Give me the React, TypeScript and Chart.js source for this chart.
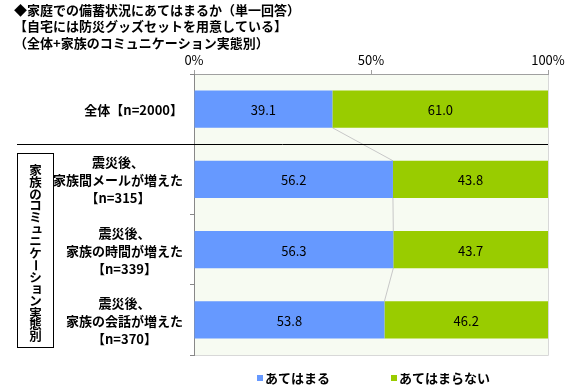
import React, { useEffect, useRef } from "react";
import { Chart, registerables } from "chart.js";

Chart.register(...registerables);

const titleLines = [
  "◆家庭での備蓄状況にあてはまるか（単一回答）",
  "【自宅には防災グッズセットを用意している】",
  "（全体+家族のコミュニケーション実態別）",
];
const categories: string[][] = [
  ["全体【n=2000】"],
  ["震災後、", "家族間メールが増えた", "【n=315】"],
  ["震災後、", "家族の時間が増えた", "【n=339】"],
  ["震災後、", "家族の会話が増えた", "【n=370】"],
];
const seriesNames = ["あてはまる", "あてはまらない"];
const applies = [39.1, 56.2, 56.3, 53.8];
const notApplies = [61.0, 43.8, 43.7, 46.2];
const xTickValues = [0, 50, 100];
const groupLabel = "家族のコミュニケーション実態別";

const COLORS = ["#6699FF", "#99CC00"];
const FONT = "'Noto Sans CJK JP', 'Noto Sans', sans-serif";

const decorPlugin = {
  id: "decor",
  beforeDraw(chart: any) {
    const { ctx, chartArea: a } = chart;
    ctx.save();
    ctx.fillStyle = "#F7FBF2";
    ctx.fillRect(a.left, a.top, a.right - a.left, a.bottom - a.top);
    ctx.strokeStyle = "#D8D8D8";
    ctx.lineWidth = 1;
    ctx.beginPath();
    ctx.moveTo(a.left, a.bottom + 0.5);
    ctx.lineTo(a.right + 0.5, a.bottom + 0.5);
    ctx.lineTo(a.right + 0.5, a.top);
    ctx.stroke();
    ctx.restore();
  },
  beforeDatasetsDraw(chart: any) {
    const { ctx } = chart;
    const m0 = chart.getDatasetMeta(0).data;
    ctx.save();
    ctx.strokeStyle = "#C8C8C8";
    ctx.lineWidth = 1;
    for (let i = 0; i < m0.length - 1; i++) {
      const a = m0[i];
      const b = m0[i + 1];
      ctx.beginPath();
      ctx.moveTo(a.x, a.y + a.height / 2);
      ctx.lineTo(b.x, b.y - b.height / 2);
      ctx.stroke();
    }
    ctx.restore();
  },
  afterDraw(chart: any) {
    const { ctx, chartArea: a } = chart;
    const yScale = chart.scales.y;
    ctx.save();
    // data labels
    ctx.font = `13px ${FONT}`;
    ctx.fillStyle = "#000";
    ctx.textAlign = "center";
    ctx.textBaseline = "middle";
    chart.data.datasets.forEach((ds: any, di: number) => {
      const meta = chart.getDatasetMeta(di).data;
      meta.forEach((el: any, i: number) => {
        const cx = (el.x + el.base) / 2;
        ctx.fillText(Number(ds.data[i]).toFixed(1), cx, el.y + 1);
      });
    });
    // category labels
    ctx.font = `bold 13px ${FONT}`;
    const lh = 18;
    categories.forEach((lines, i) => {
      const cy = yScale.getPixelForValue(i);
      const w = Math.max(...lines.map((l) => ctx.measureText(l).width));
      const cx = 183 - w / 2;
      const y0 = cy - ((lines.length - 1) * lh) / 2;
      lines.forEach((l, k) => ctx.fillText(l, cx, y0 + k * lh + 1));
    });
    // separator line
    const sepY = Math.round((yScale.getPixelForValue(0) + yScale.getPixelForValue(1)) / 2) + 0.5;
    ctx.strokeStyle = "#000";
    ctx.lineWidth = 1;
    ctx.beginPath();
    ctx.moveTo(17, sepY);
    ctx.lineTo(a.right, sepY);
    ctx.stroke();
    // group box
    ctx.strokeRect(17.5, 153.5, 36, 194);
    const chars = Array.from(groupLabel);
    ctx.font = `bold 12.5px ${FONT}`;
    const step = 11.9;
    const startY = 170;
    chars.forEach((c, k) => {
      const y = startY + k * step;
      if (c === "ー") {
        ctx.save();
        ctx.translate(35.5, y);
        ctx.rotate(Math.PI / 2);
        ctx.fillText(c, 0, 0);
        ctx.restore();
      } else if (c === "ュ" || c === "ョ") {
        ctx.fillText(c, 37, y - 1);
      } else {
        ctx.fillText(c, 35.5, y);
      }
    });
    // title
    ctx.textAlign = "left";
    ctx.font = `bold 13px ${FONT}`;
    titleLines.forEach((t, k) => ctx.fillText(t, 14, 10 + k * 16.5));
    // legend
    const legendX = [257, 391];
    seriesNames.forEach((n, k) => {
      ctx.fillStyle = COLORS[k];
      ctx.fillRect(legendX[k], 375, 6, 6);
      ctx.fillStyle = "#000";
      ctx.fillText(n, legendX[k] + 8, 378.5);
    });
    ctx.restore();
  },
};

export default function App() {
  const ref = useRef<HTMLCanvasElement>(null);
  useEffect(() => {
    if (!ref.current) return;
    const chart = new Chart(ref.current, {
      type: "bar",
      data: {
        labels: categories.map((c) => c.join(" ")),
        datasets: [
          {
            label: seriesNames[0],
            data: applies,
            backgroundColor: COLORS[0],
            categoryPercentage: 1,
            barPercentage: 0.53,
          },
          {
            label: seriesNames[1],
            data: notApplies,
            backgroundColor: COLORS[1],
            categoryPercentage: 1,
            barPercentage: 0.53,
          },
        ],
      },
      options: {
        indexAxis: "y",
        responsive: false,
        animation: false,
        devicePixelRatio: 1,
        layout: { padding: { left: 0, top: 0, right: 32, bottom: 32 } },
        plugins: { legend: { display: false }, tooltip: { enabled: false }, title: { display: false } },
        scales: {
          x: {
            position: "top",
            stacked: true,
            min: 0,
            max: 100,
            afterBuildTicks: (s: any) => {
              s.ticks = xTickValues.map((v) => ({ value: v }));
            },
            afterFit: (s: any) => {
              s.height = 74;
            },
            ticks: {
              callback: (v: any) => `${v}%`,
              font: { size: 13, family: FONT },
              color: "#000",
              padding: 2,
              maxRotation: 0,
            },
            grid: { drawOnChartArea: false, drawTicks: true, tickLength: 4, color: "#A0A0A0" },
            border: { display: true, color: "#A0A0A0" },
          },
          y: {
            stacked: true,
            offset: true,
            afterFit: (s: any) => {
              s.width = 194;
            },
            ticks: { callback: () => "", color: "rgba(0,0,0,0)" },
            grid: { offset: true, drawOnChartArea: false, drawTicks: true, tickLength: 4, color: "#888" },
            border: { display: true, color: "#888" },
          },
        },
      },
      plugins: [decorPlugin],
    } as any);
    return () => chart.destroy();
  }, []);
  return (
    <div style={{ position: "absolute", left: 0, top: 0, width: 580, height: 387, background: "#fff" }}>
      <canvas ref={ref} width={580} height={387} style={{ display: "block" }} />
    </div>
  );
}
